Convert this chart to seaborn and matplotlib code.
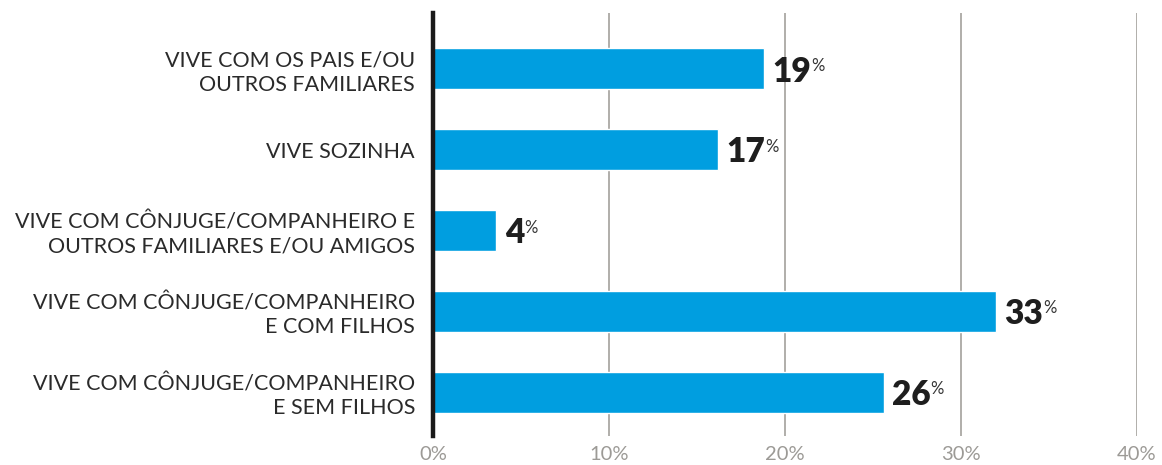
import matplotlib
matplotlib.use("Agg")
import matplotlib.pyplot as plt
import seaborn as sns
import pandas as pd

# data
categories = [
    "VIVE COM OS PAIS E/OU\nOUTROS FAMILIARES",
    "VIVE SOZINHA",
    "VIVE COM CÔNJUGE/COMPANHEIRO E\nOUTROS FAMILIARES E/OU AMIGOS",
    "VIVE COM CÔNJUGE/COMPANHEIRO\nE COM FILHOS",
    "VIVE COM CÔNJUGE/COMPANHEIRO\nE SEM FILHOS",
]
values = [18.8, 16.2, 3.6, 32.0, 25.6]
value_labels = ["19", "17", "4", "33", "26"]
x_ticks = [0, 10, 20, 30, 40]

df = pd.DataFrame({"categoria": categories, "pct": values})

sns.set_theme(style="white")
plt.rcParams["font.family"] = ["Lato", "DejaVu Sans"]

fig = plt.figure(figsize=(11.62, 4.65), dpi=100)
ax = fig.add_axes([0.3726, 0.0624, 0.6059, 0.9096])

sns.barplot(data=df, x="pct", y="categoria", orient="h", color="#009ee0",
            width=0.51, saturation=1, ax=ax)

ax.set_xlim(0, 40)
ax.set_ylim(4.54, -0.69)
ax.set_xticks(x_ticks)
ax.set_xticklabels([f"{t}%" for t in x_ticks])
ax.set_xlabel("")
ax.set_ylabel("")

# vertical grid, black zero axis
for t in x_ticks[1:]:
    ax.axvline(t, color="#aaa8a4", lw=1.3, zorder=0)
for s in ["top", "right", "bottom"]:
    ax.spines[s].set_visible(False)
ax.spines["left"].set_color("#1a1a1a")
ax.spines["left"].set_linewidth(3.2)
ax.spines["left"].set_zorder(3)

ax.tick_params(axis="x", length=0, pad=7, labelsize=14.5, labelcolor="#9c9a96")
ax.tick_params(axis="y", length=0, pad=13, labelsize=15.5, labelcolor="#2a2a2a")
for lbl in ax.get_yticklabels():
    lbl.set_linespacing(1.25)

# value labels: bold number + small percent sign
for i, (v, txt) in enumerate(zip(values, value_labels)):
    t = ax.annotate(txt, xy=(v, i), xytext=(6, -2), textcoords="offset points",
                    ha="left", va="center", fontsize=24, fontweight="heavy",
                    color="#1e1e1e")
    ax.annotate("%", xy=(1, 0.93), xycoords=t, xytext=(0, 0),
                textcoords="offset points", ha="left", va="top",
                fontsize=12, color="#333333")

fig.savefig("out.png", dpi=100)
